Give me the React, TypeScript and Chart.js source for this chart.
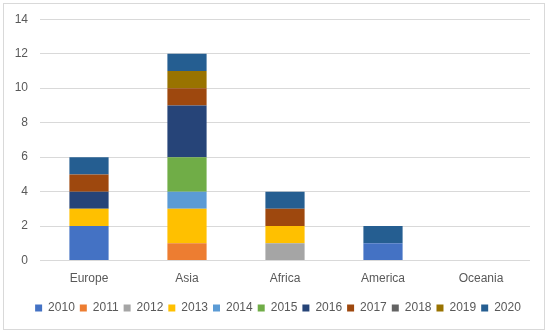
import React, { useEffect, useRef } from "react";
import { Chart, registerables } from "chart.js";

Chart.register(...registerables);

const categories = ["Europe", "Asia", "Africa", "America", "Oceania"];
const years = ["2010", "2011", "2012", "2013", "2014", "2015", "2016", "2017", "2018", "2019", "2020"];
const colors = ["#4472C4", "#ED7D31", "#A5A5A5", "#FFC000", "#5B9BD5", "#70AD47", "#264478", "#9E480E", "#636363", "#997300", "#255E91"];
const v2010 = [2, 0, 0, 1, 0];
const v2011 = [0, 1, 0, 0, 0];
const v2012 = [0, 0, 1, 0, 0];
const v2013 = [1, 2, 1, 0, 0];
const v2014 = [0, 1, 0, 0, 0];
const v2015 = [0, 2, 0, 0, 0];
const v2016 = [1, 3, 0, 0, 0];
const v2017 = [1, 1, 1, 0, 0];
const v2018 = [0, 0, 0, 0, 0];
const v2019 = [0, 1, 0, 0, 0];
const v2020 = [1, 1, 1, 1, 0];
const seriesValues = [v2010, v2011, v2012, v2013, v2014, v2015, v2016, v2017, v2018, v2019, v2020];
const yTicks = [0, 2, 4, 6, 8, 10, 12, 14];

const FONT = "'Liberation Sans', Arial, sans-serif";
const TEXT = "#595959";

export default function App() {
  const ref = useRef<HTMLCanvasElement>(null);
  useEffect(() => {
    document.body.style.margin = "0";
    const borderPlugin = {
      id: "outerBorder",
      beforeDraw(chart: any) {
        const ctx = chart.ctx;
        ctx.save();
        ctx.fillStyle = "#ffffff";
        ctx.fillRect(0, 0, chart.width, chart.height);
        ctx.strokeStyle = "#d9d9d9";
        ctx.lineWidth = 1;
        ctx.strokeRect(3.5, 3.5, 541, 326);
        ctx.restore();
      },
    };
    const chart = new Chart(ref.current!, {
      type: "bar",
      data: {
        labels: categories,
        datasets: years.map((y, i) => ({
          label: y,
          data: seriesValues[i],
          backgroundColor: colors[i],
          borderWidth: 0,
          barPercentage: 0.4,
          categoryPercentage: 1,
        })),
      },
      options: {
        animation: false,
        responsive: false,
        maintainAspectRatio: false,
        layout: { padding: { left: 10, right: 4, top: 14, bottom: 10 } },
        plugins: {
          tooltip: { enabled: false },
          legend: {
            position: "bottom",
            labels: {
              boxWidth: 7,
              boxHeight: 7,
              padding: 5,
              color: TEXT,
              font: { family: FONT, size: 12 },
            },
          },
        },
        scales: {
          x: {
            stacked: true,
            grid: { display: false },
            border: { display: false },
            ticks: { color: TEXT, font: { family: FONT, size: 12 }, padding: 3 },
            afterFit(axis: any) {
              axis.height = axis.height + 8;
            },
          },
          y: {
            stacked: true,
            min: 0,
            max: 14,
            afterBuildTicks(axis: any) {
              axis.ticks = yTicks.map((v) => ({ value: v }));
            },
            grid: { color: "#d9d9d9", drawTicks: false },
            border: { display: false },
            ticks: { color: TEXT, font: { family: FONT, size: 12 }, padding: 12 },
            afterFit(axis: any) {
              axis.width = 30;
            },
          },
          spacer: {
            type: "linear",
            position: "right",
            display: true,
            grid: { display: false, drawTicks: false },
            border: { display: false },
            ticks: { display: false },
            afterFit(axis: any) {
              axis.width = 16;
            },
          },
        },
      },
      plugins: [borderPlugin],
    });
    return () => chart.destroy();
  }, []);
  return (
    <div style={{ position: "absolute", left: 0, top: 0, width: 550, height: 334 }}>
      <canvas ref={ref} width={550} height={334} style={{ width: 550, height: 334 }} />
    </div>
  );
}
